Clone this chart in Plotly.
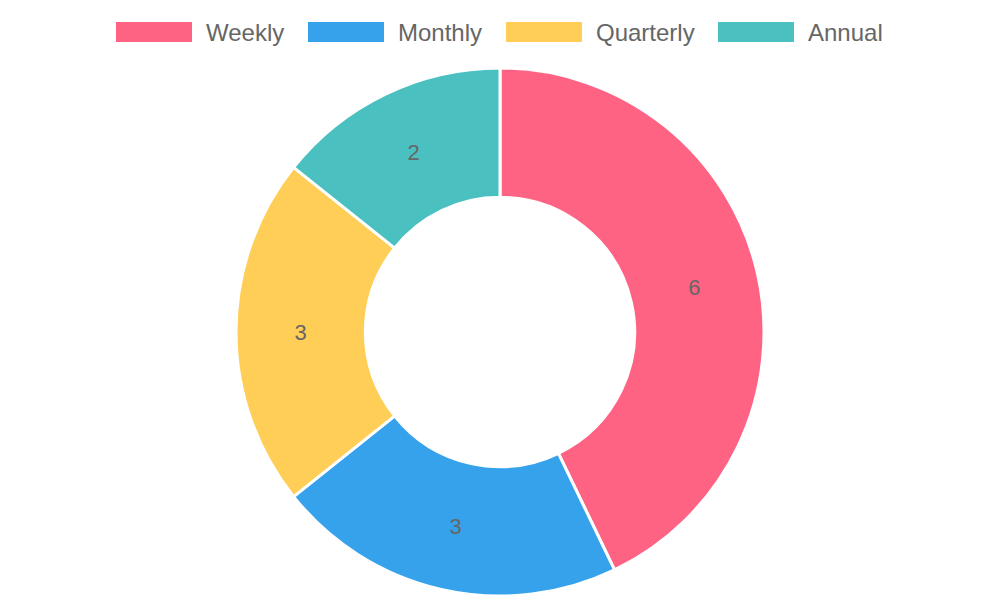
import plotly.graph_objects as go

labels = ["Weekly", "Monthly", "Quarterly", "Annual"]
values = [6, 3, 3, 2]
colors = ["#FF6384", "#36A2EB", "#FFCE56", "#4BC0C0"]

W, H = 1000, 600

fig = go.Figure(go.Pie(
    labels=labels,
    values=values,
    sort=False,
    direction="clockwise",
    rotation=0,
    hole=0.51,
    marker=dict(colors=colors, line=dict(color="#ffffff", width=3)),
    textinfo="value",
    textposition="inside",
    insidetextorientation="horizontal",
    textfont=dict(family="Liberation Sans, Arial, sans-serif", size=22, color="#666666"),
    domain=dict(x=[0, 1], y=[4 / H, 532 / H]),
    showlegend=False,
    hoverinfo="label+value",
))

# custom legend (Chart.js style wide boxes)
box_left = [116, 308, 506, 718]
text_left = [204, 396, 594, 806]
shapes = []
annotations = []
for lab, col, bx, tx in zip(labels, colors, box_left, text_left):
    shapes.append(dict(type="rect", xref="paper", yref="paper",
                       x0=bx / W, x1=(bx + 76) / W,
                       y0=1 - 42 / H, y1=1 - 22 / H,
                       fillcolor=col, line=dict(width=0)))
    annotations.append(dict(x=tx / W, y=1 - 32 / H, xref="paper", yref="paper",
                            text=lab, showarrow=False, xanchor="left", yanchor="middle",
                            font=dict(family="Liberation Sans, Arial, sans-serif", size=24, color="#666666")))

fig.update_layout(
    width=W, height=H,
    margin=dict(l=0, r=0, t=0, b=0),
    paper_bgcolor="#ffffff",
    plot_bgcolor="#ffffff",
    shapes=shapes,
    annotations=annotations,
)

fig.write_html("out.html")
